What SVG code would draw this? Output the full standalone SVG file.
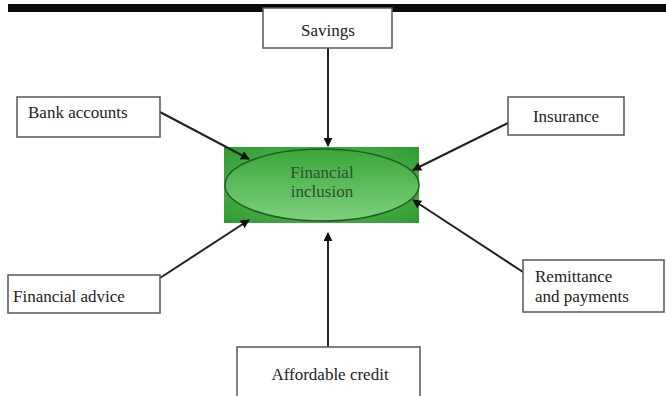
<svg xmlns="http://www.w3.org/2000/svg" width="666" height="396" viewBox="0 0 666 396">
<style>
.box{fill:#fff;stroke:#555;stroke-width:1.5}
.t{font-family:'Liberation Serif','Times New Roman','DejaVu Serif',serif;font-size:17px;fill:#222}
.c{stroke:#222;stroke-width:2;fill:none;marker-end:url(#ah)}
</style>
<defs>
<marker id="ah" viewBox="0 0 10 10" refX="9" refY="5" markerWidth="4.5" markerHeight="4.5" orient="auto" markerUnits="strokeWidth">
<path d="M0,0 L10,5 L0,10 z" fill="#111"/>
</marker>
<radialGradient id="gr" cx="0.5" cy="0.5" r="0.7">
<stop offset="0" stop-color="#6cc46c"/>
<stop offset="1" stop-color="#2f9a2f"/>
</radialGradient>
<linearGradient id="ge" x1="0" y1="0" x2="0" y2="1">
<stop offset="0" stop-color="#3aa53a"/>
<stop offset="0.5" stop-color="#5cbc5c"/>
<stop offset="1" stop-color="#7fcf7f"/>
</linearGradient>
</defs>
<rect x="0" y="0" width="666" height="396" fill="#fff"/>
<rect x="8" y="4" width="658" height="8" fill="#0a0a0a"/>
<g id="center">
<rect x="224" y="147" width="195" height="76" fill="url(#gr)"/>
<ellipse cx="322" cy="185" rx="97" ry="36" fill="url(#ge)" stroke="#1f5f1f" stroke-width="1.5"/>
<text class="t" x="322" y="178" text-anchor="middle" style="fill:#2f4f2f">Financial</text>
<text class="t" x="322" y="197" text-anchor="middle" style="fill:#2f4f2f">inclusion</text>
</g>
<g id="connectors">
<line class="c" x1="328" y1="48" x2="328" y2="146"/>
<line class="c" x1="160" y1="112" x2="249" y2="159"/>
<line class="c" x1="508" y1="123" x2="413" y2="170"/>
<line class="c" x1="160" y1="278" x2="249" y2="220"/>
<line class="c" x1="523" y1="272" x2="413" y2="200"/>
<line class="c" x1="328" y1="347" x2="328" y2="233"/>
</g>
<g id="savings">
<rect class="box" x="263" y="8" width="129" height="40"/>
<text class="t" x="328" y="36" text-anchor="middle">Savings</text>
</g>
<g id="bank">
<rect class="box" x="17" y="97" width="143" height="40"/>
<text class="t" x="28" y="118">Bank accounts</text>
</g>
<g id="insurance">
<rect class="box" x="508" y="97" width="116" height="38"/>
<text class="t" x="566" y="122" text-anchor="middle">Insurance</text>
</g>
<g id="advice">
<rect class="box" x="8" y="275" width="152" height="38"/>
<text class="t" x="13" y="302">Financial advice</text>
</g>
<g id="remittance">
<rect class="box" x="523" y="260" width="141" height="52"/>
<text class="t" x="535" y="282">Remittance</text>
<text class="t" x="535" y="302">and payments</text>
</g>
<g id="credit">
<rect class="box" x="237" y="347" width="183" height="55"/>
<text class="t" x="330" y="380" text-anchor="middle">Affordable credit</text>
</g>
</svg>
